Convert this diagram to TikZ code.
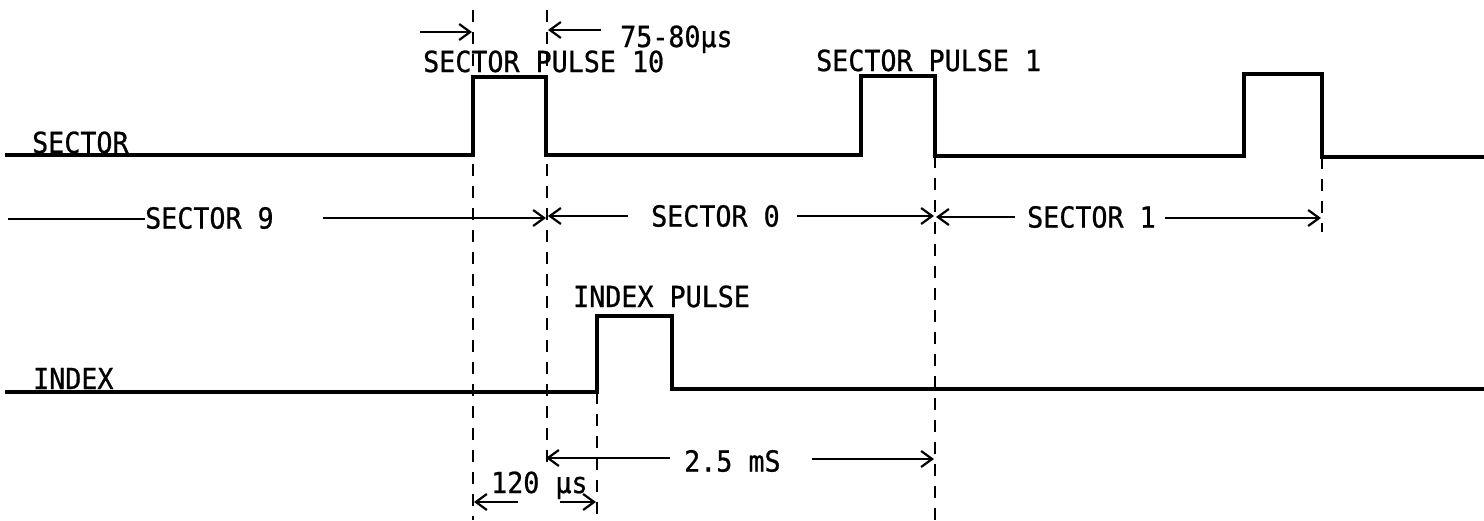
\documentclass[tikz,border=0pt]{standalone}
\usepackage{fontspec}
\newfontfamily\tw{DejaVu Sans Mono}[FakeStretch=0.92,FakeBold=0.8]
\usetikzlibrary{arrows.meta}
\begin{document}
\begin{tikzpicture}[x=1pt,y=-1pt,
  sig/.style={line width=3.6pt, line join=miter},
  guide/.style={line width=2.6pt, dash pattern=on 12pt off 10pt},
  dimline/.style={line width=2.2pt},
  dim/.style={dimline, -{Straight Barb[length=11pt,width=16pt,line width=2.2pt]}},
  lbl/.style={anchor=base west, inner sep=0pt, font=\tw\fontsize{29}{32}\selectfont}]
\useasboundingbox (0,0) rectangle (1484,520);
% sector signal
\coordinate (s0) at (5,155);
\coordinate (s1) at (473,155);
\coordinate (s2) at (473,77);
\coordinate (s3) at (546,77);
\coordinate (s4) at (546,155);
\coordinate (s5) at (861,155);
\coordinate (s6) at (861,76);
\coordinate (s7) at (935,76);
\coordinate (s8) at (935,156);
\coordinate (s9) at (1244,156);
\coordinate (s10) at (1244,74);
\coordinate (s11) at (1322,74);
\coordinate (s12) at (1322,157);
\coordinate (s13) at (1484,157);
\draw[sig] (s0) -- (s1) -- (s2) -- (s3) -- (s4) -- (s5) -- (s6) -- (s7) -- (s8) -- (s9) -- (s10) -- (s11) -- (s12) -- (s13);
% index signal
\coordinate (i0) at (5,392);
\coordinate (i1) at (597,392);
\coordinate (i2) at (597,316);
\coordinate (i3) at (672,316);
\coordinate (i4) at (672,389);
\coordinate (i5) at (1484,389);
\draw[sig] (i0) -- (i1) -- (i2) -- (i3) -- (i4) -- (i5);
% guide lines
\coordinate (d1t) at (473,10);  \coordinate (d1b) at (473,520);
\coordinate (d2t) at (547,10);  \coordinate (d2b) at (547,462);
\coordinate (d3b) at (597,520);
\coordinate (d4b) at (935,520);
\coordinate (d5b) at (1322,232);
\draw[guide] (d1t) -- (d1b);
\draw[guide] (d2t) -- (d2b);
\draw[guide] (i1) -- (d3b);
\draw[guide] (s8) -- (d4b);
\draw[guide] (s12) -- (d5b);
% labels
\node[lbl] (tsector) at (32,153) {SECTOR};
\node[lbl] (tindex) at (33,389) {INDEX};
\node[lbl] (tsp10) at (423,72) {SECTOR PULSE 10};
\node[lbl] (tsp1) at (816,71) {SECTOR PULSE 1};
\node[lbl] (tip) at (573,307) {INDEX PULSE};
\node[lbl] (t7580) at (620,47) {75-80µs};
% top width arrows
\coordinate (a1s) at (420,32); \coordinate (a1e) at (472,32);
\coordinate (a2s) at (601,30); \coordinate (a2e) at (548,30);
\draw[dim] (a1s) -- (a1e);
\draw[dim] (a2s) -- (a2e);
% sector row
\node[lbl, anchor=west] (ts9) at (145,218) {SECTOR 9};
\node[lbl, anchor=west] (ts0) at (651,216) {SECTOR 0};
\node[lbl, anchor=west] (ts1) at (1027,217) {SECTOR 1};
\coordinate (r0) at (8,219);
\coordinate (r1) at (323,218); \coordinate (r2) at (546,218);
\coordinate (r3) at (628,216); \coordinate (r4) at (548,216);
\coordinate (r5) at (797,216); \coordinate (r6) at (934,216);
\coordinate (r7) at (1015,217); \coordinate (r8) at (936,217);
\coordinate (r9) at (1165,218); \coordinate (r10) at (1321,218);
\draw[dimline] (r0) -- (r0 -| ts9.west);
\draw[dim] (r1) -- (r2);
\draw[dim] (r3) -- (r4);
\draw[dim] (r5) -- (r6);
\draw[dim] (r7) -- (r8);
\draw[dim] (r9) -- (r10);
% 2.5 mS
\node[lbl, anchor=west] (t25) at (684,461) {2.5 mS};
\coordinate (m1) at (670,458); \coordinate (m2) at (546,458);
\coordinate (m3) at (812,459); \coordinate (m4) at (934,459);
\draw[dim] (m1) -- (m2);
\draw[dim] (m3) -- (m4);
% 120 us
\node[lbl] (t120) at (491,493) {120 µs};
\coordinate (u1) at (518,502); \coordinate (u2) at (474,502);
\coordinate (u3) at (560,502); \coordinate (u4) at (596,502);
\draw[dim] (u1) -- (u2);
\draw[dim] (u3) -- (u4);
\end{tikzpicture}
\end{document}
